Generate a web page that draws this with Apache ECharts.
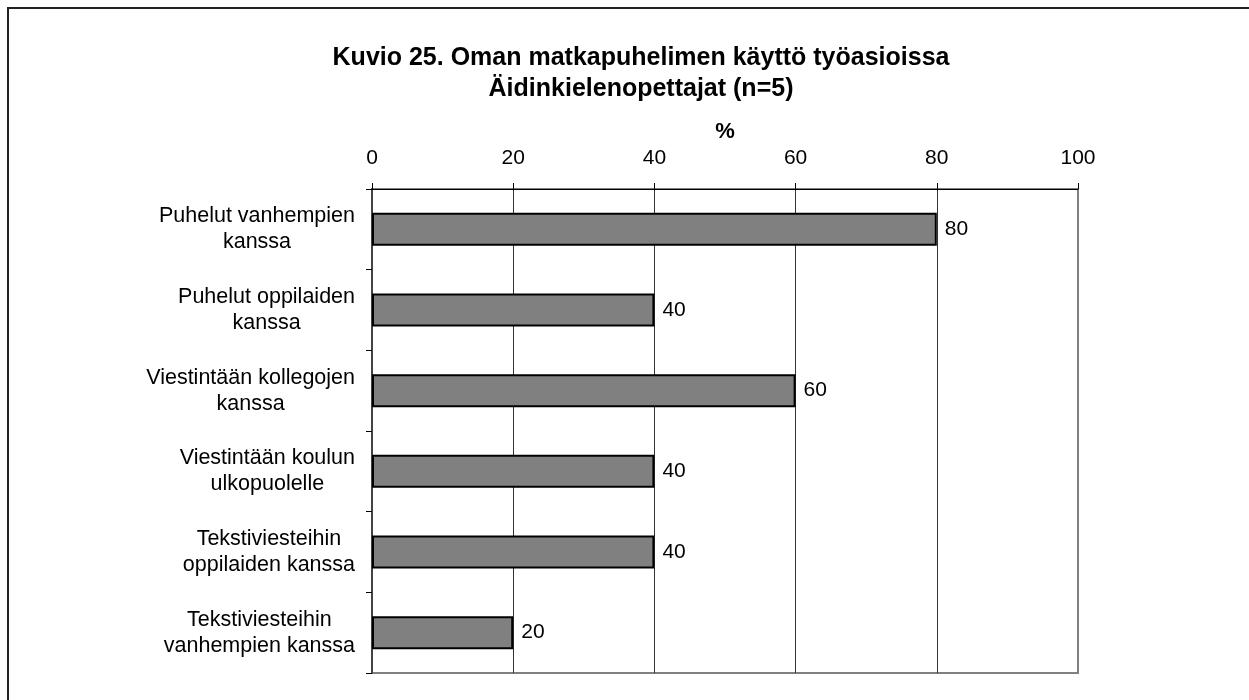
<html>
<head>
<meta charset="utf-8">
<title>Kuvio 25</title>
<script src="https://cdn.jsdelivr.net/npm/echarts@6/dist/echarts.min.js"></script>
<style>
  body { margin: 0; background: #fff; }
  #main { width: 1249px; height: 700px; }
</style>
</head>
<body>
<div id="main"></div>
<script type="text/javascript">
// luokat ylhäältä alas
var categories = [
    'Puhelut vanhempien\nkanssa',
    'Puhelut oppilaiden\nkanssa',
    'Viestintään kollegojen\nkanssa',
    'Viestintään koulun\nulkopuolelle',
    'Tekstiviesteihin\noppilaiden kanssa',
    'Tekstiviesteihin\nvanhempien kanssa'
];
var values = [80, 40, 60, 40, 40, 20];
var xTicks = [0, 20, 40, 60, 80, 100];

var font = 'Liberation Sans, Arial, sans-serif';
var myChart = echarts.init(document.getElementById('main'));

var option = {
    backgroundColor: '#fff',
    animation: false,
    textStyle: { fontFamily: font },
    title: {
        text: 'Kuvio 25. Oman matkapuhelimen käyttö työasioissa\nÄidinkielenopettajat (n=5)',
        left: 636,
        top: 38,
        textAlign: 'center',
        textStyle: {
            fontFamily: font,
            fontSize: 25,
            fontWeight: 'bold',
            color: '#000',
            lineHeight: 31
        }
    },
    graphic: [{
        type: 'rect',
        shape: { x: 8, y: 8, width: 1400, height: 900 },
        style: { fill: null, stroke: '#222', lineWidth: 2 },
        silent: true
    }],
    grid: {
        left: 372,
        right: 171,
        top: 189,
        bottom: 27,
        show: true,
        borderColor: '#808080',
        borderWidth: 2,
        containLabel: false
    },
    xAxis: {
        type: 'value',
        position: 'top',
        min: 0,
        max: 100,
        interval: 20,
        name: '%',
        nameLocation: 'middle',
        nameGap: 46,
        nameTextStyle: { fontFamily: font, fontSize: 22, fontWeight: 'bold', color: '#000' },
        axisLine: { show: true, lineStyle: { color: '#000', width: 1 } },
        axisTick: { show: true, length: 6, lineStyle: { color: '#000' } },
        axisLabel: {
            margin: 20,
            fontFamily: font,
            fontSize: 21,
            color: '#000',
            formatter: function (v) { return xTicks.indexOf(v) >= 0 ? String(v) : ''; }
        },
        splitLine: { show: true, showMinLine: false, showMaxLine: false, lineStyle: { color: '#333', width: 1 } }
    },
    yAxis: {
        type: 'category',
        inverse: true,
        data: categories,
        axisLine: { show: true, lineStyle: { color: '#444', width: 2 } },
        axisTick: { show: true, length: 6, lineStyle: { color: '#000' } },
        axisLabel: {
            margin: 17,
            color: '#000',
            fontFamily: font,
            fontSize: 21.5,
            lineHeight: 26,
            align: 'right',
            formatter: function (v) {
                return v.split('\n').map(function (s) { return '{c|' + s + '}'; }).join('\n');
            },
            rich: {
                c: { align: 'center', fontFamily: font, fontSize: 21.5, lineHeight: 26, color: '#000' }
            }
        },
        splitLine: { show: false }
    },
    series: [{
        type: 'bar',
        data: values,
        barWidth: 33,
        itemStyle: { color: '#808080', borderColor: '#000', borderWidth: 2 },
        label: {
            show: true,
            position: 'right',
            distance: 8,
            fontFamily: font,
            fontSize: 21,
            color: '#000'
        }
    }]
};
myChart.setOption(option);
</script>
</body>
</html>
